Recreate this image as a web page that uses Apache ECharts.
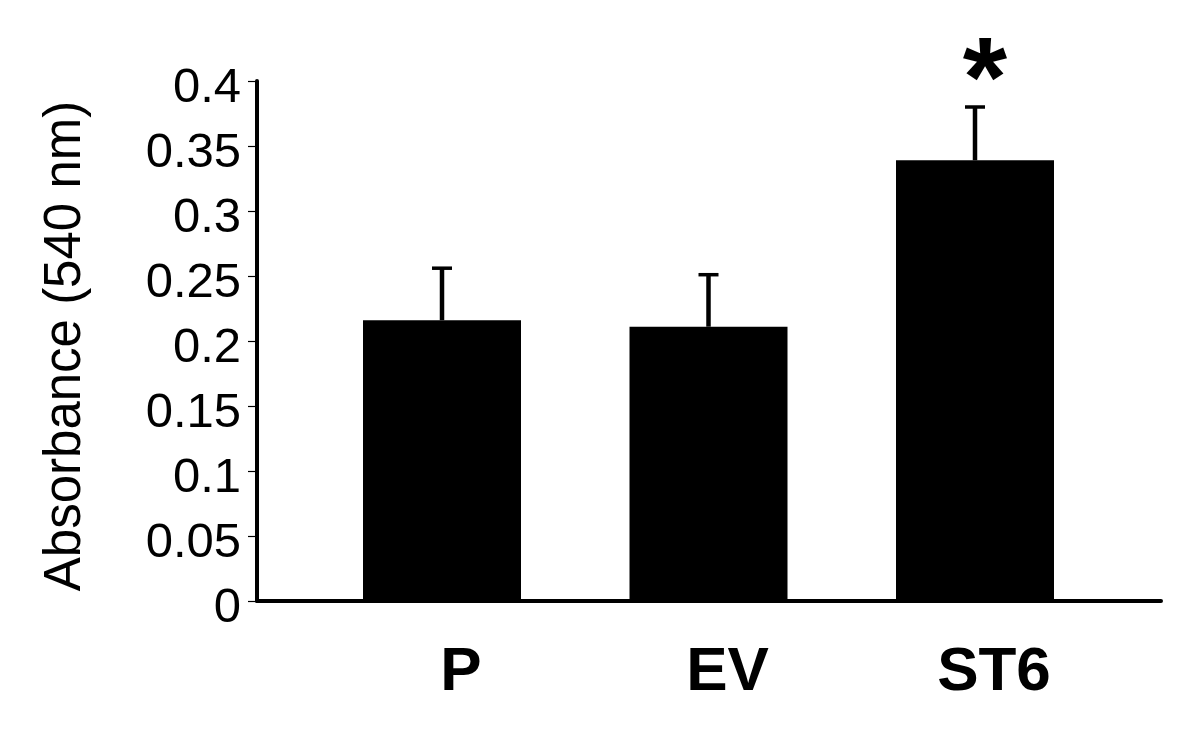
<!DOCTYPE html>
<html>
<head>
<meta charset="utf-8">
<script src="https://cdn.jsdelivr.net/npm/echarts@6/dist/echarts.min.js"></script>
<style>
html,body{margin:0;padding:0;background:#fff;}
#chart{width:1200px;height:734px;}
</style>
</head>
<body>
<div id="chart"></div>
<script>
var categories = ['P', 'EV', 'ST6'];
var values = [0.216, 0.211, 0.339];
var errors = [0.040, 0.040, 0.041];
var significance = ['', '', '*'];
var yAxisName = 'Absorbance (540 nm)';

var FONT = "'Liberation Sans', Arial, sans-serif";
var chart = echarts.init(document.getElementById('chart'), null, {renderer: 'canvas'});

var errData = categories.map(function (c, i) { return [i, values[i], errors[i]]; });

var option = {
  backgroundColor: '#fff',
  animation: false,
  grid: [
    {left: 308.75, right: 91.75, top: 81, bottom: 133},
    {left: 257, right: 39, top: 81, bottom: 133}
  ],
  xAxis: [
    {
      type: 'category', gridIndex: 0, data: categories,
      axisLine: {show: false}, axisTick: {show: false}, splitLine: {show: false},
      axisLabel: {
        color: '#000', fontFamily: FONT, fontWeight: 'bold', fontSize: 62,
        margin: 41, padding: [0, 0, 0, 38]
      }
    },
    {
      type: 'value', gridIndex: 1, min: 0, max: 1,
      axisLine: {show: true, lineStyle: {color: '#000', width: 4}},
      axisTick: {show: false}, axisLabel: {show: false}, splitLine: {show: false}
    }
  ],
  yAxis: [
    {
      type: 'value', gridIndex: 0, min: 0, max: 0.4, interval: 0.05,
      show: false
    },
    {
      type: 'value', gridIndex: 1, min: 0, max: 0.4, interval: 0.05,
      name: yAxisName, nameLocation: 'middle', nameGap: 166,
      nameTextStyle: {color: '#000', fontFamily: FONT, fontSize: 51, padding: [0, 10, 0, 0]},
      axisLine: {show: true, lineStyle: {color: '#000', width: 4}},
      axisTick: {show: true, length: 9, lineStyle: {color: '#000', width: 1.2}},
      axisLabel: {
        margin: 16,
        formatter: function (v) { return '{t|' + v + '}'; },
        rich: {t: {color: '#000', fontFamily: FONT, fontSize: 49, padding: [15, 0, 0, 0]}}
      },
      splitLine: {show: false}
    }
  ],
  series: [
    {
      type: 'bar', xAxisIndex: 0, yAxisIndex: 0,
      data: values, barWidth: 158,
      itemStyle: {color: '#000'}
    },
    {
      type: 'custom', xAxisIndex: 0, yAxisIndex: 0,
      data: errData,
      z: 3,
      renderItem: function (params, api) {
        var x = api.value(0), v = api.value(1), e = api.value(2);
        var base = api.coord([x, v]);
        var top = api.coord([x, v + e]);
        var capHalf = 10;
        var children = [
          {type: 'line', shape: {x1: base[0], y1: base[1], x2: top[0], y2: top[1]},
           style: {stroke: '#000', lineWidth: 4.5}},
          {type: 'line', shape: {x1: top[0] - capHalf, y1: top[1], x2: top[0] + capHalf, y2: top[1]},
           style: {stroke: '#000', lineWidth: 3.5}}
        ];
        var mark = significance[params.dataIndex];
        if (mark) {
          children.push({
            type: 'text', x: top[0] + 10, y: top[1] - 22,
            style: {text: mark, fill: '#000', fontFamily: FONT, fontWeight: 'bold', fontSize: 114,
                    align: 'center', verticalAlign: 'middle'}
          });
        }
        return {type: 'group', children: children};
      }
    }
  ]
};
chart.setOption(option);
</script>
</body>
</html>
